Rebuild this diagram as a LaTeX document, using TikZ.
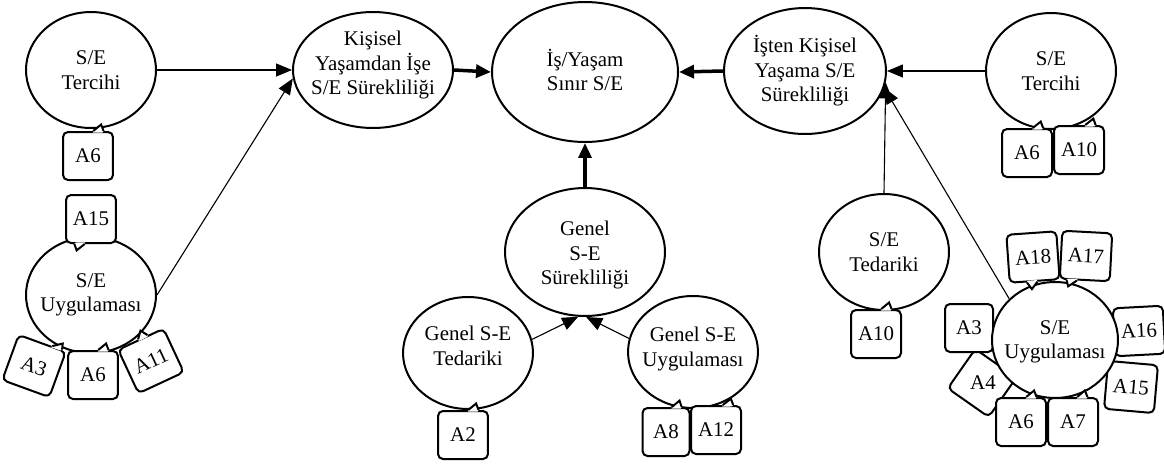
\documentclass[tikz,border=0pt]{standalone}
\usepackage{fontspec}
\setmainfont{Liberation Serif}
\usetikzlibrary{shapes.geometric,arrows.meta,calc}
\def\pxu{0.02cm}
\tikzset{
 ell/.style={draw, ellipse, line width=0.04cm, inner sep=0pt, fill=white},
 lbl/.style={align=center, inner sep=0pt, font=\fontsize{11.9}{13.9}\selectfont},
 cbox/.style={draw, rounded corners=0.1cm, line width=0.04cm, fill=white, minimum width=1cm, minimum height=0.96cm, inner sep=0pt, font=\fontsize{11.9}{13.9}\selectfont},
 ptrs/.style={draw, line width=0.04cm, line join=miter},
 tarr/.style={line width=0.022cm, -{Triangle[length=0.32cm,width=0.26cm]}},
 karr/.style={line width=0.07cm, -{Triangle[length=0.3cm,width=0.26cm]}},
}
% callout pointer: box, side start anchor, side end anchor, position along side
\newcommand\ptr[4]{%
  \pgfmathsetmacro\pa{#4-0.1}\pgfmathsetmacro\pb{#4+0.1}%
  \path ($(#1.#2)!\pa!(#1.#3)$) coordinate (#1p1)
        ($(#1.#2)!\pb!(#1.#3)$) coordinate (#1p2)
        ($(#1.#2)!#4!(#1.#3)$) coordinate (#1m);
  \path ($(#1m)!-0.14cm!(#1.center)$) coordinate (#1t)
        ($(#1p1)!0.035cm!(#1.center)$) coordinate (#1q1)
        ($(#1p2)!0.035cm!(#1.center)$) coordinate (#1q2);
  \fill[white] (#1q1) -- (#1p1) -- (#1t) -- (#1p2) -- (#1q2) -- cycle;
  \draw[ptrs] (#1p1) -- (#1t) -- (#1p2);
}
\begin{document}
\begin{tikzpicture}[x=\pxu, y=-\pxu]
\useasboundingbox (0,0) rectangle (1164,464);

% ---------- left cluster ----------
\node[ell, minimum width=2.6cm, minimum height=2.32cm] (lter) at (91,70) {};
\node[lbl] (ltert) at (lter) {S/E\\Tercihi};
\node[cbox] (b1) at (88,156) {A6}; \ptr{b1}{north west}{north east}{0.7}

\node[ell, minimum width=2.6cm, minimum height=2.32cm] (luyg) at (91,295) {};
\node[lbl] (luygt) at (luyg) {S/E\\Uygulaması};
\node[cbox] (b2) at (91,219) {A15}; \ptr{b2}{south west}{south east}{0.28}
\node[cbox, rotate=-20] (b3) at (34,366) {A3}; \ptr{b3}{north west}{north east}{0.8}
\node[cbox] (b4) at (93,375) {A6}; \ptr{b4}{north west}{north east}{0.7}
\node[cbox, rotate=25] (b5) at (151,361) {A11}; \ptr{b5}{north west}{north east}{0.55}

% ---------- top row ----------
\node[ell, minimum width=3.2cm, minimum height=2.32cm] (kis) at (373,70) {};
\node[lbl] (kist) at (373,65) {Kişisel\\Yaşamdan İşe\\S/E Sürekliliği};

\node[ell, minimum width=3.72cm, minimum height=2.8cm] (is) at (585,72) {};
\node[lbl] (ist) at (585,70) {İş/Yaşam\\Sınır S/E};

\node[ell, minimum width=3.24cm, minimum height=2.52cm] (isten) at (805,71) {};
\node[lbl] (istent) at (isten) {İşten Kişisel\\Yaşama S/E\\Sürekliliği};

\node[ell, minimum width=2.6cm, minimum height=2.32cm] (rter) at (1051,71) {};
\node[lbl] (rtert) at (rter) {S/E\\Tercihi};
\node[cbox] (r1) at (1027,153) {A6}; \ptr{r1}{north west}{north east}{0.71}
\node[cbox] (r2) at (1079,150) {A10}; \ptr{r2}{north west}{north east}{0.72}

% ---------- centre ----------
\node[ell, minimum width=3.2cm, minimum height=2.56cm] (gsur) at (585,252) {};
\node[lbl] (gsurt) at (585,255) {Genel\\S-E\\Sürekliliği};

\node[ell, minimum width=2.6cm, minimum height=2.24cm] (gted) at (468,353) {};
\node[lbl] (gtedt) at (468,346) {Genel S-E\\Tedariki};
\node[cbox] (c1) at (463,435) {A2}; \ptr{c1}{north west}{north east}{0.7}

\node[ell, minimum width=2.6cm, minimum height=2.24cm] (gu) at (693,352) {};
\node[lbl] (gut) at (693,349) {Genel S-E\\Uygulaması};
\node[cbox, minimum width=0.94cm] (c2) at (666,432) {A8}; \ptr{c2}{north west}{north east}{0.72}
\node[cbox] (c3) at (716,430) {A12}; \ptr{c3}{north west}{north east}{0.73}

% ---------- right ----------
\node[ell, minimum width=2.6cm, minimum height=2.32cm] (ted) at (884,252) {};
\node[lbl] (tedt) at (ted) {S/E\\Tedariki};
\node[cbox] (r3) at (876,334) {A10}; \ptr{r3}{north west}{north east}{0.7}

\node[cbox, rotate=-35] (r7) at (982,383) {};
\node[lbl] (r7t) at (983,383) {A4};
\node[cbox, minimum width=0.96cm] (r6) at (969,328) {A3};
\node[cbox, rotate=3] (r8) at (1139,331) {A16};
\node[cbox, rotate=-5] (r9) at (1131,387) {A15};
\node[cbox] (r10) at (1021,422) {A6};
\node[cbox] (r11) at (1073,422) {A7};
\node[cbox, rotate=4] (r4) at (1033,257) {A18};
\node[cbox, rotate=-3] (r5) at (1086,256) {A17};
\node[ell, minimum width=2.52cm, minimum height=2.32cm] (ruyg) at (1055,340) {};
\node[lbl] (ruygt) at (1055,342) {S/E\\Uygulaması};
\ptr{r4}{south west}{south east}{0.45}
\ptr{r5}{south west}{south east}{0.25}
\ptr{r10}{north west}{north east}{0.7}
\ptr{r11}{north west}{north east}{0.68}

% ---------- connectors ----------
\draw[tarr] (lter.east) -- (kis.west);
\draw[tarr] (luyg.east) -- (kis.186);
\draw[karr] (kis.east) -- (is.west);
\draw[karr] (isten.west) -- (is.east);
\draw[karr] (gsur.north) -- (is.south);
\draw[tarr] (gted.12) -- (gsur.-96);
\draw[tarr] (gu.168) -- (gsur.-89);
\draw[tarr] (rter.west) -- (isten.east);
\draw[tarr] (ted.north) -- (isten.-8);
\draw[tarr] (ruyg.138) -- (isten.-12);
\end{tikzpicture}
\end{document}
